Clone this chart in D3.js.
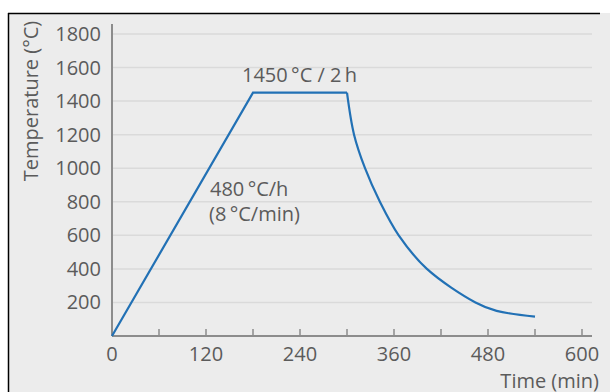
<!DOCTYPE html>
<html>
<head>
<meta charset="utf-8">
<script src="https://cdn.jsdelivr.net/npm/d3@7"></script>
<style>
  body { margin: 0; background: #fff; }
  text { font-family: "Open Sans", sans-serif; fill: #5b5b5b; font-size: 20px; }
</style>
</head>
<body>
<svg id="chart" width="610" height="392"></svg>
<script>
// heating ramp + hold
const heatTime = [0, 180, 300];
const heatTemp = [0, 1450, 1450];
// cooling curve
const coolTime = [300, 309, 323, 342, 366, 402, 464, 491, 540];
const coolTemp = [1450, 1200, 1000, 800, 600, 400, 200, 150, 115];

const xTicks = [0, 120, 240, 360, 480, 600];
const xMinorTicks = [0, 60, 120, 180, 240, 300, 360, 420, 480, 540, 600];
const yTicks = [200, 400, 600, 800, 1000, 1200, 1400, 1600, 1800];

const svg = d3.select("#chart");
const margin = { top: 34, right: 18, bottom: 56, left: 112 };
const width = 592 - margin.left;
const height = 336 - margin.top;

// panel background and frame
svg.append("rect")
  .attr("x", 8).attr("y", 13)
  .attr("width", 602).attr("height", 379)
  .attr("fill", "#ececec");
svg.append("line")
  .attr("x1", 8).attr("x2", 600).attr("y1", 13.5).attr("y2", 13.5)
  .attr("stroke", "#000").attr("stroke-width", 1.5);
svg.append("line")
  .attr("x1", 8.5).attr("x2", 8.5).attr("y1", 13).attr("y2", 392)
  .attr("stroke", "#000").attr("stroke-width", 1.5);

const g = svg.append("g")
  .attr("transform", `translate(${margin.left},${margin.top})`);

const x = d3.scaleLinear().domain([0, 600]).range([0, 470]);
const y = d3.scaleLinear().domain([0, 1800]).range([height, 0]);

// gridlines
g.selectAll("line.grid")
  .data(yTicks)
  .enter().append("line")
  .attr("class", "grid")
  .attr("x1", 1).attr("x2", width)
  .attr("y1", d => y(d)).attr("y2", d => y(d))
  .attr("stroke", "#dadada").attr("stroke-width", 1.5);

// y axis
g.append("line")
  .attr("x1", 0).attr("x2", 0).attr("y1", -10).attr("y2", height)
  .attr("stroke", "#8c8c8c").attr("stroke-width", 2);
g.selectAll("text.ylab")
  .data(yTicks)
  .enter().append("text")
  .attr("class", "ylab")
  .attr("x", -11)
  .attr("y", d => y(d))
  .attr("dy", "0.35em")
  .attr("text-anchor", "end")
  .text(d => d);

// x axis
g.append("line")
  .attr("x1", 0).attr("x2", width).attr("y1", height).attr("y2", height)
  .attr("stroke", "#8c8c8c").attr("stroke-width", 2);
g.selectAll("line.xtick")
  .data(xMinorTicks)
  .enter().append("line")
  .attr("class", "xtick")
  .attr("x1", d => x(d)).attr("x2", d => x(d))
  .attr("y1", height).attr("y2", height - 7)
  .attr("stroke", "#8c8c8c").attr("stroke-width", 1.5);
g.selectAll("text.xlab")
  .data(xTicks)
  .enter().append("text")
  .attr("class", "xlab")
  .attr("x", d => x(d))
  .attr("y", height + 25)
  .attr("text-anchor", "middle")
  .text(d => d);

// axis titles
svg.append("text")
  .attr("x", 599).attr("y", 388)
  .attr("text-anchor", "end")
  .text("Time (min)");
svg.append("text")
  .attr("transform", "translate(38,101) rotate(-90)")
  .attr("text-anchor", "middle")
  .text("Temperature (°C)");

// curves
const heatLine = d3.line()
  .x((d, i) => x(heatTime[i]))
  .y(d => y(d));
g.append("path")
  .attr("d", heatLine(heatTemp))
  .attr("fill", "none")
  .attr("stroke", "#2271b5")
  .attr("stroke-width", 2.2);

const coolLine = d3.line()
  .x((d, i) => x(coolTime[i]))
  .y(d => y(d))
  .curve(d3.curveCatmullRom.alpha(0.5));
g.append("path")
  .attr("d", coolLine(coolTemp))
  .attr("fill", "none")
  .attr("stroke", "#2271b5")
  .attr("stroke-width", 2.2);

// annotations
svg.append("text")
  .attr("x", 242).attr("y", 82)
  .text("1450\u2009°C / 2\u2009h");
svg.append("text")
  .attr("x", 210).attr("y", 196)
  .text("480\u2009°C/h");
svg.append("text")
  .attr("x", 209).attr("y", 221)
  .text("(8\u2009°C/min)");
</script>
</body>
</html>
